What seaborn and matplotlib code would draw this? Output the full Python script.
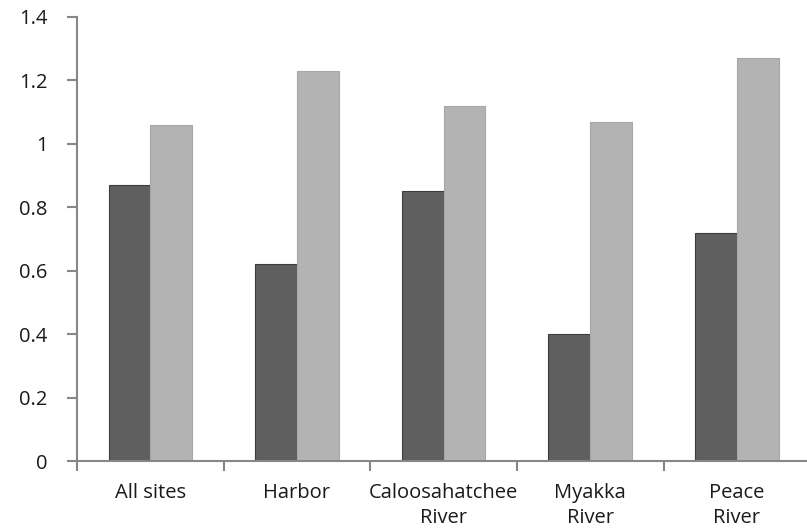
import matplotlib
matplotlib.use("Agg")
import matplotlib.pyplot as plt
import seaborn as sns
import pandas as pd
import numpy as np

# Site categories and the two measured series
sites = ["All sites", "Harbor", "Caloosahatchee\nRiver", "Myakka\nRiver", "Peace\nRiver"]
series_1 = [0.87, 0.62, 0.85, 0.40, 0.72]
series_2 = [1.06, 1.23, 1.12, 1.07, 1.27]
y_ticks = [0, 0.2, 0.4, 0.6, 0.8, 1.0, 1.2, 1.4]
y_tick_labels = ["0", "0.2", "0.4", "0.6", "0.8", "1", "1.2", "1.4"]

df = pd.DataFrame({
    "site": sites * 2,
    "value": series_1 + series_2,
    "series": ["Series 1"] * len(sites) + ["Series 2"] * len(sites),
})

sns.set_theme(style="white")
plt.rcParams["font.family"] = ["Open Sans", "DejaVu Sans"]

fig = plt.figure(figsize=(8.07, 5.31), dpi=100)
ax = fig.add_axes([0.0954, 0.1318, 0.9086, 0.8362])

sns.barplot(data=df, x="site", y="value", hue="series",
            palette=["#5f5f5f", "#b3b3b3"], width=0.57, gap=0,
            saturation=1, legend=False, ax=ax)

edge_colors = ["#3c3c3c", "#a6a6a6"]
for cont, ec in zip(ax.containers, edge_colors):
    for patch in cont:
        patch.set_edgecolor(ec)
        patch.set_linewidth(0.8)

ax.set_xlim(-0.5, len(sites) - 0.5)
ax.set_ylim(0, 1.4)
ax.set_yticks(y_ticks)
ax.set_yticklabels(y_tick_labels)
ax.set_xlabel("")
ax.set_ylabel("")

spine_color = "#878787"
for side in ["top", "right"]:
    ax.spines[side].set_visible(False)
for side in ["left", "bottom"]:
    ax.spines[side].set_color(spine_color)
    ax.spines[side].set_linewidth(1.5)

# category labels at centers, tick marks at category boundaries
ax.set_xticks(np.arange(len(sites)))
ax.set_xticklabels(sites, fontsize=14.5, color="#1a1a1a", linespacing=1.3, va="top")
ax.set_xticks(np.arange(len(sites) + 1) - 0.5, minor=True)
ax.tick_params(axis="x", which="major", length=0, pad=16)
ax.tick_params(axis="x", which="minor", length=7, width=1.5, color=spine_color,
               direction="out", bottom=True)
ax.tick_params(axis="y", which="major", length=7, width=1.5, color=spine_color,
               direction="out", left=True, labelsize=14.5, labelcolor="#1a1a1a", pad=14)

fig.savefig("out.png", dpi=100)
